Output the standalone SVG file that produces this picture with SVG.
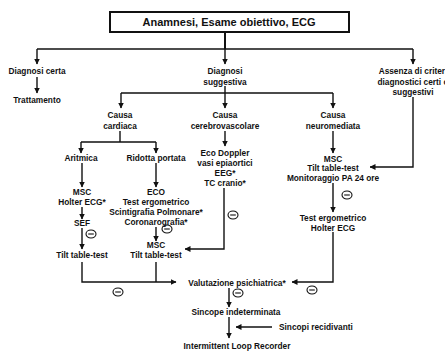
<svg xmlns="http://www.w3.org/2000/svg" width="445" height="351" viewBox="0 0 445 351">
<style>
text{font-family:"Liberation Sans",Arial,sans-serif;font-weight:bold;font-size:8.3px;fill:#111;text-anchor:middle}
.title{font-size:11px}
.ln{fill:none;stroke:#111;stroke-width:1.4}
.arr{marker-end:url(#ah)}
</style>
<defs>
<marker id="ah" markerUnits="userSpaceOnUse" markerWidth="6" markerHeight="6" refX="5.5" refY="3" orient="auto">
<path d="M0,0 L6,3 L0,6 z" fill="#111"/>
</marker>
<g id="minus"><ellipse cx="0" cy="0" rx="5" ry="4" fill="#fff" stroke="#111" stroke-width="1.1"/><line x1="-2.8" y1="0" x2="2.8" y2="0" stroke="#111" stroke-width="1.1"/></g>
</defs>
<rect width="445" height="351" fill="#fff"/>
<g id="connectors">
<path class="ln" d="M225,32 V49" style="stroke-width:2"/>
<path class="ln" d="M37,49 H413"/>
<path class="ln arr" d="M37,49 V64"/>
<path class="ln arr" d="M225,49 V64"/>
<path class="ln arr" d="M413,49 V64"/>
<path class="ln arr" d="M37,77 V93"/>
<path class="ln" d="M225,86 V93 M121,93 H333"/>
<path class="ln arr" d="M121,93 V108"/>
<path class="ln arr" d="M225,93 V108"/>
<path class="ln arr" d="M333,93 V108"/>
<path class="ln" d="M120,131 V142 M81,142 H156"/>
<path class="ln arr" d="M81,142 V153"/>
<path class="ln arr" d="M156,142 V153"/>
<path class="ln arr" d="M225,131 V146"/>
<path class="ln arr" d="M333,131 V153"/>
<path class="ln arr" d="M82,163 V187"/>
<path class="ln arr" d="M156,163 V187"/>
<path class="ln arr" d="M82,207 V219"/>
<path class="ln arr" d="M82,228 V249"/>
<path class="ln arr" d="M156,227 V241"/>
<path class="ln arr" d="M224,188 V249 H185"/>
<path class="ln arr" d="M413,97 V167 H370"/>
<path class="ln arr" d="M333,183 V212"/>
<path class="ln arr" d="M333,232 V282 H292"/>
<path class="ln arr" d="M82,262 V282 H176"/>
<path class="ln" d="M156,262 V282"/>
<path class="ln arr" d="M229,288 V307"/>
<path class="ln arr" d="M229,317 V338"/>
<path class="ln arr" d="M272,327 H236"/>
</g>
<g id="negatives">
<use href="#minus" x="91" y="234"/>
<use href="#minus" x="167" y="229"/>
<use href="#minus" x="233" y="215"/>
<use href="#minus" x="347" y="195"/>
<use href="#minus" x="118" y="292"/>
<use href="#minus" x="238" y="293"/>
<use href="#minus" x="312" y="290"/>
</g>
<g id="n-title"><rect x="110" y="12" width="239" height="20" fill="#fff" stroke="#111" stroke-width="2"/><text class="title" x="229" y="26">Anamnesi, Esame obiettivo, ECG</text></g>
<g id="n-certa"><text x="37" y="74">Diagnosi certa</text></g>
<g id="n-tratt"><text x="37" y="103">Trattamento</text></g>
<g id="n-sugg"><text x="225" y="74">Diagnosi</text><text x="225" y="85">suggestiva</text></g>
<g id="n-assenza"><text x="413" y="74">Assenza di criteri</text><text x="413" y="85">diagnostici certi o</text><text x="413" y="95">suggestivi</text></g>
<g id="n-cardiaca"><text x="120" y="118">Causa</text><text x="120" y="129">cardiaca</text></g>
<g id="n-cerebro"><text x="225" y="118">Causa</text><text x="225" y="129">cerebrovascolare</text></g>
<g id="n-neuro"><text x="333" y="118">Causa</text><text x="333" y="129">neuromediata</text></g>
<g id="n-aritmica"><text x="81" y="161">Aritmica</text></g>
<g id="n-ridotta"><text x="156" y="161">Ridotta portata</text></g>
<g id="n-eco-doppler"><text x="225" y="156">Eco Doppler</text><text x="225" y="166">vasi epiaortici</text><text x="225" y="176">EEG*</text><text x="225" y="186">TC cranio*</text></g>
<g id="n-msc-holter"><text x="82" y="195">MSC</text><text x="82" y="205">Holter ECG*</text></g>
<g id="n-eco"><text x="156" y="195">ECO</text><text x="156" y="205">Test ergometrico</text><text x="156" y="215">Scintigrafia Polmonare*</text><text x="156" y="225">Coronarografia*</text></g>
<g id="n-sef"><text x="82" y="226">SEF</text></g>
<g id="n-tilt1"><text x="82" y="258">Tilt table-test</text></g>
<g id="n-msc-tilt"><text x="156" y="248">MSC</text><text x="156" y="258">Tilt table-test</text></g>
<g id="n-msc-neuro"><text x="333" y="162">MSC</text><text x="333" y="171">Tilt table-test</text><text x="333" y="181">Monitoraggio PA 24 ore</text></g>
<g id="n-test-holter"><text x="333" y="221">Test ergometrico</text><text x="333" y="231">Holter ECG</text></g>
<g id="n-valut"><text x="237" y="286">Valutazione psichiatrica*</text></g>
<g id="n-sincope"><text x="236" y="315">Sincope indeterminata</text></g>
<g id="n-recid"><text x="279" y="330" style="text-anchor:start">Sincopi recidivanti</text></g>
<g id="n-ilr"><text x="237" y="349">Intermittent Loop Recorder</text></g>
</svg>
